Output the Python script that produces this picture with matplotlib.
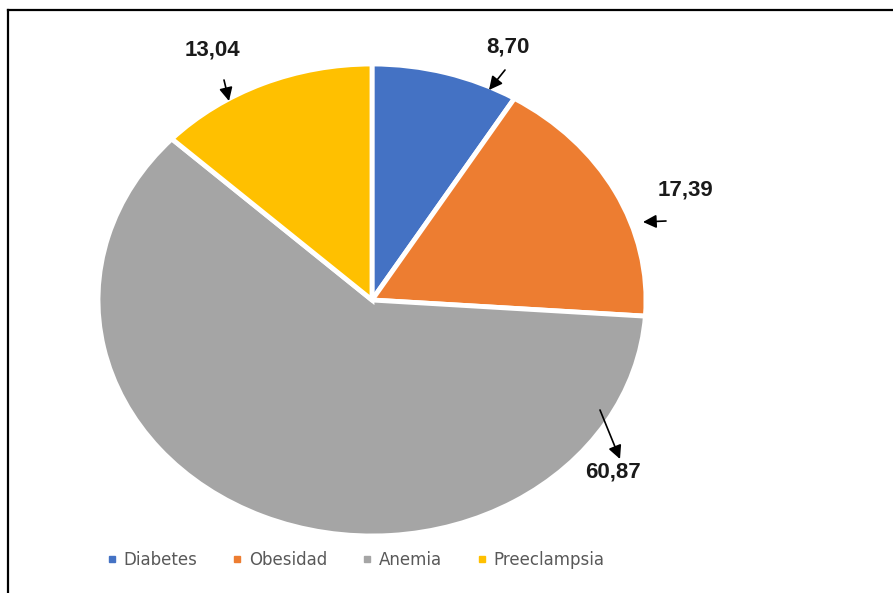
import matplotlib
matplotlib.use("Agg")
import matplotlib.pyplot as plt
from matplotlib.lines import Line2D

categories = ["Diabetes", "Obesidad", "Anemia", "Preeclampsia"]
values = [8.70, 17.39, 60.87, 13.04]
value_labels = ["8,70", "17,39", "60,87", "13,04"]
colors = ["#4472C4", "#ED7D31", "#A5A5A5", "#FFC000"]

W, H = 893, 593
CX, CY, RX, RY = 372, 300, 274, 236


def px2data(px, py):
    return (px - CX) / RX, (CY - py) / RY


# label text position, arrow tail, arrow head (pixels)
label_pos = {
    "8,70": ((508, 47), (505, 70), (489, 90)),
    "17,39": ((686, 190), (666, 221), (643, 222)),
    "60,87": ((613, 472), (600, 410), (620, 459)),
    "13,04": ((212, 50), (224, 80), (229, 101)),
}

fig = plt.figure(figsize=(W / 100, H / 100), dpi=100)
ax = fig.add_axes([(CX - RX) / W, (H - CY - RY) / H, 2 * RX / W, 2 * RY / H])
ax.pie(values, colors=colors, startangle=90, counterclock=False,
       wedgeprops=dict(edgecolor="white", linewidth=3.5))
ax.set_aspect("auto")
ax.set_xlim(-1, 1)
ax.set_ylim(-1, 1)
ax.axis("off")

for lab in value_labels:
    (tx, ty), (ax0, ay0), (hx, hy) = label_pos[lab]
    ax.text(*px2data(tx, ty), lab, ha="center", va="center",
            fontsize=16, fontweight="bold", family="Liberation Sans",
            color="#1a1a1a", clip_on=False)
    ax.annotate("", xy=px2data(hx, hy), xytext=px2data(ax0, ay0),
                arrowprops=dict(arrowstyle="-|>", color="black", lw=1.2,
                                mutation_scale=20, shrinkA=0, shrinkB=0),
                annotation_clip=False)

handles = [Line2D([0], [0], marker="s", ls="none", color=c, markersize=5)
           for c in colors]
fig.legend(handles, categories, loc="center", bbox_to_anchor=(355 / W, 1 - 560 / H),
           ncol=4, frameon=False, fontsize=12, handletextpad=0.3,
           columnspacing=2.0, handlelength=0.8, labelcolor="#595959")

# outer frame (top and left edges only)
fig.add_artist(Line2D([8 / W, 1], [1 - 10 / H, 1 - 10 / H], color="black", lw=1.6))
fig.add_artist(Line2D([8 / W, 8 / W], [0, 1 - 10 / H], color="black", lw=1.6))

fig.savefig("out.png", dpi=100)
